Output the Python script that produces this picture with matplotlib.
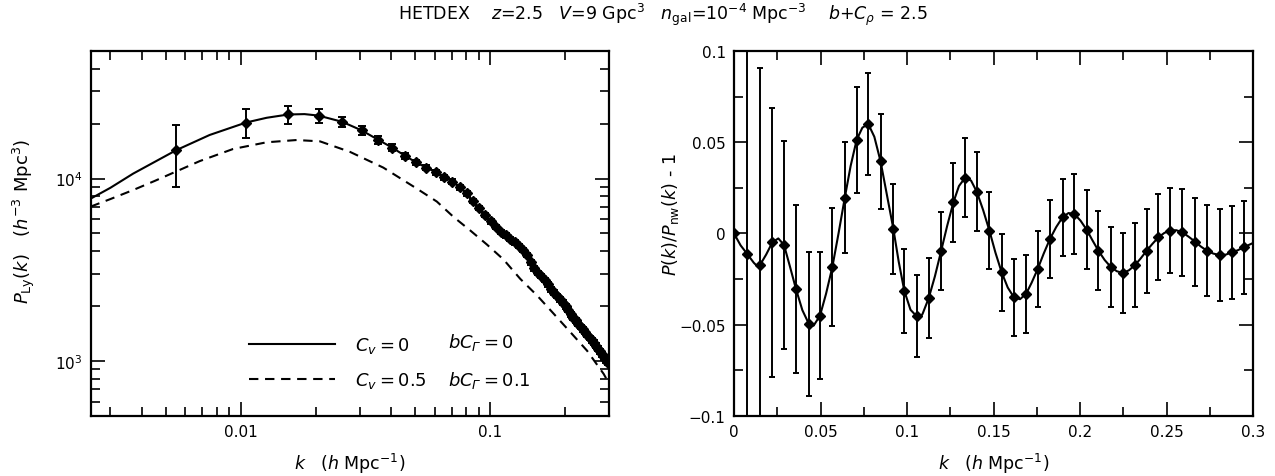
import numpy as np
import matplotlib
matplotlib.use('Agg')
import matplotlib.pyplot as plt
from matplotlib.ticker import FixedLocator, NullFormatter, LogLocator

plt.rcParams['font.family'] = ['DejaVu Sans']
plt.rcParams['mathtext.fontset'] = 'custom'
plt.rcParams['mathtext.rm'] = 'DejaVu Sans'
plt.rcParams['mathtext.it'] = 'DejaVu Sans:italic'
plt.rcParams['mathtext.sf'] = 'DejaVu Sans:italic'   # para una Gamma en cursiva
plt.rcParams['mathtext.bf'] = 'DejaVu Sans:bold'

# ---- panel izquierdo: espectro de potencia Ly-alpha ----
k_pts = [0.0055, 0.0105, 0.0155, 0.0205, 0.0255, 0.0305, 0.0355, 0.0405, 0.0455, 0.0505,
         0.0555, 0.0605, 0.0655, 0.0705, 0.0755, 0.0805, 0.0855, 0.0905, 0.0955, 0.1005,
         0.1055, 0.1105, 0.1155, 0.1205, 0.1255, 0.1305, 0.1355, 0.1405, 0.1455, 0.1505,
         0.1555, 0.1605, 0.1655, 0.1705, 0.1755, 0.1805, 0.1855, 0.1905, 0.1955, 0.2005,
         0.2055, 0.2105, 0.2155, 0.2205, 0.2255, 0.2305, 0.2355, 0.2405, 0.2455, 0.2505,
         0.2555, 0.2605, 0.2655, 0.2705, 0.2755, 0.2805, 0.2855, 0.2905, 0.2955]
P_pts = [14290, 20280, 22440, 22130, 20460, 18370, 16330, 14760, 13340, 12250,
         11460, 10860, 10190, 9620, 8970, 8300, 7520, 6920, 6340, 5820,
         5410, 5120, 4880, 4660, 4470, 4270, 4050, 3800, 3470, 3220,
         3050, 2920, 2790, 2630, 2470, 2370, 2280, 2180, 2090, 1995,
         1900, 1800, 1730, 1670, 1600, 1540, 1490, 1440, 1390, 1340,
         1300, 1260, 1215, 1170, 1130, 1090, 1050, 1010, 980]
rel_err = [0.37, 0.18, 0.118, 0.087, 0.067, 0.056, 0.048, 0.043, 0.039, 0.036,
           0.034, 0.032, 0.031, 0.030, 0.029, 0.028, 0.028, 0.028, 0.027, 0.027,
           0.027, 0.027, 0.027, 0.027, 0.027, 0.027, 0.027, 0.027, 0.027, 0.027,
           0.027, 0.027, 0.027, 0.027, 0.028, 0.028, 0.028, 0.028, 0.028, 0.028,
           0.028, 0.028, 0.028, 0.029, 0.029, 0.029, 0.029, 0.029, 0.029, 0.030,
           0.030, 0.030, 0.030, 0.030, 0.031, 0.031, 0.031, 0.031, 0.031]

# curva continua (C_v = 0, bC_Gamma = 0)
k_solid = [0.0025, 0.0030, 0.0037, 0.0055, 0.0075, 0.0105, 0.0127, 0.0155, 0.0180] + k_pts[3:]
P_solid = [7760, 8900, 10640, 14290, 17330, 20280, 21530, 22440, 22550] + P_pts[3:]

# curva discontinua (C_v = 0.5, bC_Gamma = 0.1)
k_dash = [0.0025, 0.0030, 0.0037, 0.00452, 0.00552, 0.00685, 0.00931, 0.01268, 0.01674,
          0.02077, 0.02741, 0.03727, 0.05077, 0.0611, 0.0712, 0.0831, 0.0970, 0.1131,
          0.1320, 0.1540, 0.1795, 0.2096, 0.2445, 0.2851, 0.3]
P_dash = [7020, 7720, 8650, 9710, 10950, 12470, 14520, 15800, 16260,
          15990, 14000, 11480, 8810, 7480, 6170, 5200, 4350, 3600,
          2820, 2290, 1820, 1440, 1140, 850, 750]

# ---- panel derecho: oscilaciones BAO ----
k_bao = [0.0, 0.0077, 0.0150, 0.0222, 0.0289, 0.0358, 0.0433, 0.0497, 0.0568, 0.0640,
         0.0709, 0.0776, 0.0847, 0.0921, 0.0984, 0.1056, 0.1125, 0.1197, 0.1268, 0.1336,
         0.1403, 0.1476, 0.1547, 0.1618, 0.1688, 0.1755, 0.1826, 0.1899, 0.1967, 0.2038,
         0.2106, 0.2179, 0.2247, 0.2318, 0.2385, 0.2453, 0.2520, 0.2592, 0.2665, 0.2733,
         0.2806, 0.2877, 0.2945]
r_bao = [0.0, -0.0113, -0.0173, -0.0048, -0.0063, -0.0304, -0.0496, -0.0450, -0.0185, 0.0195,
         0.0514, 0.0600, 0.0395, 0.0025, -0.0313, -0.0454, -0.0355, -0.0096, 0.0171, 0.0306,
         0.0229, 0.0016, -0.0213, -0.0350, -0.0331, -0.0195, -0.0030, 0.0089, 0.0107, 0.0021,
         -0.0094, -0.0185, -0.0216, -0.0173, -0.0094, -0.0021, 0.0016, 0.0006, -0.0045, -0.0094,
         -0.0118, -0.0103, -0.0076]
e_bao = [0.0, 0.15, 0.108, 0.0736, 0.057, 0.046, 0.0395, 0.035, 0.0324, 0.0304,
         0.029, 0.028, 0.026, 0.0245, 0.023, 0.0224, 0.0219, 0.0216, 0.0217, 0.0218,
         0.0218, 0.0212, 0.021, 0.021, 0.0212, 0.021, 0.0215, 0.021, 0.0217, 0.0215,
         0.0216, 0.022, 0.022, 0.0228, 0.023, 0.0235, 0.0235, 0.024, 0.0242, 0.025,
         0.025, 0.0256, 0.0256]

k_fit = [0.000, 0.0038, 0.0077, 0.0114, 0.0135, 0.0150, 0.0186, 0.0222, 0.0256, 0.0289,
         0.0323, 0.0358, 0.0395, 0.0433, 0.0460, 0.0497, 0.0532, 0.0568, 0.0604, 0.0640,
         0.0674, 0.0709, 0.0742, 0.0776, 0.0811, 0.0847, 0.0884, 0.0921, 0.0952, 0.0984,
         0.1020, 0.1056, 0.1075, 0.1090, 0.1125, 0.1161, 0.1197, 0.1232, 0.1268, 0.1300,
         0.1336, 0.1370, 0.1403, 0.1440, 0.1476, 0.1511, 0.1547, 0.1582, 0.1618, 0.1653,
         0.1688, 0.1720, 0.1755, 0.1790, 0.1826, 0.1862, 0.1899, 0.1933, 0.1967, 0.2003,
         0.2038, 0.2072, 0.2106, 0.2142, 0.2179, 0.2213, 0.2247, 0.2282, 0.2318, 0.2351,
         0.2385, 0.2419, 0.2453, 0.2487, 0.2520, 0.2556, 0.2592, 0.2628, 0.2665, 0.2699,
         0.2733, 0.2770, 0.2806, 0.2842, 0.2877, 0.2911, 0.2945, 0.3000]
r_fit = [0.0, -0.0065, -0.0113, -0.0160, -0.0180, -0.0173, -0.0115, -0.0048, -0.0027, -0.0063,
         -0.0180, -0.0304, -0.0420, -0.0496, -0.0505, -0.0450, -0.0330, -0.0185, 0.0000, 0.0195,
         0.0370, 0.0514, 0.0580, 0.0600, 0.0530, 0.0395, 0.0210, 0.0025, -0.0155, -0.0313,
         -0.0418, -0.0454, -0.0462, -0.0440, -0.0355, -0.0235, -0.0096, 0.0042, 0.0171, 0.0260,
         0.0306, 0.0290, 0.0229, 0.0128, 0.0016, -0.0105, -0.0213, -0.0296, -0.0350, -0.0360,
         -0.0331, -0.0270, -0.0195, -0.0110, -0.0030, 0.0035, 0.0089, 0.0112, 0.0107, 0.0070,
         0.0021, -0.0038, -0.0094, -0.0145, -0.0185, -0.0207, -0.0216, -0.0202, -0.0173, -0.0136,
         -0.0094, -0.0056, -0.0021, 0.0003, 0.0016, 0.0018, 0.0006, -0.0018, -0.0045, -0.0072,
         -0.0094, -0.0110, -0.0118, -0.0116, -0.0103, -0.0092, -0.0076, -0.0052]

xticks_bao = [0, 0.05, 0.1, 0.15, 0.2, 0.25, 0.3]
xlabels_bao = ['0', '0.05', '0.1', '0.15', '0.2', '0.25', '0.3']
yticks_bao = [-0.1, -0.05, 0, 0.05, 0.1]
ylabels_bao = ['\u22120.1', '\u22120.05', '0', '0.05', '0.1']

fig = plt.figure(figsize=(12.75, 4.77), dpi=100)
axL = fig.add_axes([0.0711, 0.1258, 0.4067, 0.7652])
axR = fig.add_axes([0.5757, 0.1258, 0.4071, 0.7652])

lw = 1.5
fs_lab = 12.5

# izquierdo
axL.plot(k_solid, P_solid, color='black', lw=lw, label=r'$C_v = 0$')
axL.plot(k_dash, P_dash, color='black', lw=lw, linestyle=(0, (4.5, 3.2)), label=r'$C_v = 0.5$')
yerr_L = np.array(rel_err) * np.array(P_pts)
axL.errorbar(k_pts, P_pts, yerr=yerr_L, fmt='D', color='black', ms=5.5,
             elinewidth=1.4, capsize=2.6, capthick=1.4, zorder=3)
axL.set_xscale('log')
axL.set_yscale('log')
axL.set_xlim(0.0025, 0.3)
axL.set_ylim(500, 5e4)
axL.xaxis.set_major_locator(FixedLocator([0.01, 0.1]))
axL.set_xticklabels(['0.01', '0.1'])
axL.xaxis.set_minor_locator(LogLocator(base=10, subs=np.arange(2, 10)))
axL.xaxis.set_minor_formatter(NullFormatter())
axL.yaxis.set_minor_formatter(NullFormatter())
axL.set_xlabel(r'$k$   ($h$ Mpc$^{-1}$)', fontsize=fs_lab, labelpad=8)
axL.set_ylabel(r'$P_{\rm Ly}(k)$   ($h^{-3}$ Mpc$^3$)', fontsize=13)

leg = axL.legend(loc='lower left', bbox_to_anchor=(0.305, 0.07), frameon=False,
                 fontsize=13, handlelength=4.8, handletextpad=1.1, labelspacing=0.85,
                 borderpad=0, borderaxespad=0)
axL.text(0.689, 0.203, r'$bC_{\mathsf{\Gamma}} = 0$', transform=axL.transAxes,
         fontsize=13, va='center', ha='left')
axL.text(0.689, 0.101, r'$bC_{\mathsf{\Gamma}} = 0.1$', transform=axL.transAxes,
         fontsize=13, va='center', ha='left')

# derecho
axR.plot(k_fit, r_fit, color='black', lw=lw)
axR.errorbar(k_bao, r_bao, yerr=e_bao, fmt='D', color='black', ms=5.5,
             elinewidth=1.4, capsize=2.4, capthick=1.4, zorder=3)
axR.set_xlim(0, 0.3)
axR.set_ylim(-0.1, 0.1)
axR.set_xticks(xticks_bao)
axR.set_xticklabels(xlabels_bao)
axR.set_yticks(yticks_bao)
axR.set_yticklabels(ylabels_bao)
axR.xaxis.set_minor_locator(FixedLocator(np.arange(0.025, 0.3, 0.05)))
axR.yaxis.set_minor_locator(FixedLocator([-0.075, -0.025, 0.025, 0.075]))
axR.set_xlabel(r'$k$   ($h$ Mpc$^{-1}$)', fontsize=fs_lab, labelpad=8)
axR.set_ylabel(r'$P(k)/P_{\rm nw}(k)$ - 1', fontsize=12.7)

for ax in (axL, axR):
    ax.tick_params(which='both', direction='in', top=True, right=True,
                   labelsize=11, pad=6, width=1.2)
    ax.tick_params(which='major', length=10)
    ax.tick_params(which='minor', length=6.5)
    for s in ax.spines.values():
        s.set_linewidth(1.6)

axL.yaxis.set_label_coords(-0.103, 0.537)
axR.yaxis.set_label_coords(-0.103, 0.553)

fig.text(0.52, 0.968,
         r'HETDEX    $z$=2.5   $V$=9 Gpc$^3$   $n_{\rm gal}$=10$^{-4}$ Mpc$^{-3}$    $b$+$C_\rho$ = 2.5',
         ha='center', va='center', fontsize=12.5)

fig.savefig('out.png', dpi=100)
